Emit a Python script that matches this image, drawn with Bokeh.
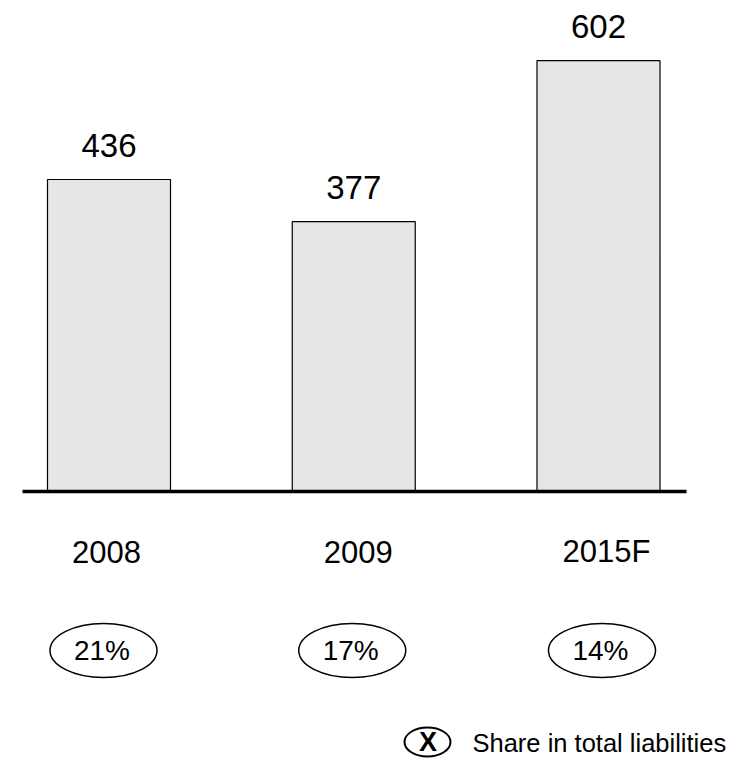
from bokeh.plotting import figure
from bokeh.models import Range1d, ColumnDataSource
from bokeh.core.properties import value
from bokeh.embed import file_html
from bokeh.resources import INLINE

# ---- data ----
years = ["2008", "2009", "2015F"]
amounts = [436, 377, 602]
shares = ["21%", "17%", "14%"]
legend_text = "Share in total liabilities"

# ---- layout (pixel geometry) ----
W, H = 754, 758
base_px = 491.0
k = 312.0 / 436.0           # pixels per unit
spacing_px = 244.75
first_center_px = 108.5

def py(px):      # pixel y (from top) -> data y
    return (base_px - px) / k

def px_x(px):    # pixel x -> data x
    return (px - first_center_px) / spacing_px

FONT = "Liberation Sans"

p = figure(width=W, height=H, output_backend="svg", toolbar_location=None,
           x_range=Range1d(px_x(0), px_x(W)), y_range=Range1d(py(H), py(0)),
           min_border=0)
p.axis.visible = False
p.grid.visible = False
p.outline_line_color = None
p.background_fill_color = "white"
p.border_fill_color = "white"

idx = list(range(len(years)))
src = ColumnDataSource(dict(x=idx, amt=amounts, lbl=[str(a) for a in amounts],
                            year=years, share=shares))

# bars
p.vbar(x="x", top="amt", bottom=0, width=123 / spacing_px, source=src,
       fill_color="#e6e6e6", line_color="#000000", line_width=1.2)

# baseline
p.segment(x0=[px_x(22)], y0=[0], x1=[px_x(686)], y1=[0],
          line_color="black", line_width=3.5)

# value labels
p.text(x="x", y="amt", text="lbl", source=src, y_offset=-34,
       text_align="center", text_baseline="middle",
       text_font=value(FONT), text_font_size="33px", text_color="black")

# year labels
year_dx = [-2.5, 4.5, 8]
for i, y_ in enumerate(years):
    p.text(x=[i], y=[0], text=[y_], x_offset=year_dx[i], y_offset=60,
           text_align="center", text_baseline="middle",
           text_font=value(FONT), text_font_size="31px", text_color="black")

# share ellipses + labels
ell_dx = [-5.5, -1.5, 3.5]
for i, s in enumerate(shares):
    cx = i + ell_dx[i] / spacing_px
    p.ellipse(x=[cx], y=[py(650)], width=107, height=54,
              width_units="screen", height_units="screen",
              fill_color=None, line_color="black", line_width=1.5)
    p.text(x=[cx], y=[py(650)], text=[s], x_offset=-1.5,
           text_align="center", text_baseline="middle",
           text_font=value(FONT), text_font_size="28px", text_color="black")

# legend
p.ellipse(x=[px_x(427)], y=[py(741.5)], width=46, height=29,
          width_units="screen", height_units="screen",
          fill_color=None, line_color="black", line_width=2)
p.text(x=[px_x(427.5)], y=[py(741)], text=["X"], text_align="center",
       text_baseline="middle", text_font=value(FONT),
       text_font_size="27px", text_font_style="bold", text_color="black")
p.text(x=[px_x(472)], y=[py(742)], text=[legend_text], text_align="left",
       text_baseline="middle", text_font=value(FONT),
       text_font_size="25.5px", text_color="black")

open("out.html", "w").write(file_html(p, INLINE))
